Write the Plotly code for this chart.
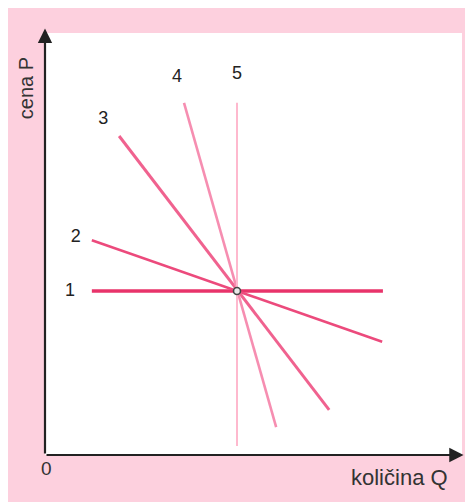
import plotly.graph_objects as go

# Data (Q = quantity, P = price) for the five demand curves through one point
curve_names = ["1", "2", "3", "4", "5"]
q_start = [1.22, 1.22, 1.93, 3.62, 5.00]
p_start = [4.00, 5.24, 7.78, 8.59, 8.59]
q_end = [8.80, 8.78, 7.40, 6.02, 5.00]
p_end = [4.00, 2.76, 1.10, 0.68, 0.22]
label_q = [0.65, 0.80, 1.52, 3.44, 5.00]
label_p = [4.00, 5.30, 8.18, 9.20, 9.28]
curve_colors = ["#E8336A", "#EC4A7C", "#F0628F", "#F68EB1", "#FEB9CE"]
curve_widths = [3.4, 2.6, 3.0, 2.6, 2.0]
center_q = [5.0]
center_p = [4.0]
x_label = "količina Q"
y_label = "cena P"
origin_label = "0"

W, H = 473, 502
OFF = 8  # page body margin
fig = go.Figure()

for i, name in enumerate(curve_names):
    fig.add_trace(go.Scatter(
        x=[q_start[i], q_end[i]], y=[p_start[i], p_end[i]],
        mode="lines", line=dict(color=curve_colors[i], width=curve_widths[i]),
        showlegend=False, hoverinfo="skip"))

fig.add_trace(go.Scatter(
    x=center_q, y=center_p, mode="markers",
    marker=dict(size=7, color="#e8e8e8", line=dict(color="#444", width=1.6)),
    showlegend=False))

fig.add_trace(go.Scatter(
    x=label_q, y=label_p, mode="text", text=curve_names,
    textfont=dict(family="Liberation Sans, Arial", size=18, color="#222"),
    showlegend=False))

# axis arrows
x_tip, y_tip = 10.90, 10.40
fig.add_annotation(x=x_tip, y=0, ax=0, ay=0, xref="x", yref="y", axref="x", ayref="y",
                   showarrow=True, arrowhead=2, arrowsize=1.3, arrowwidth=2.2,
                   arrowcolor="#222", text="")
fig.add_annotation(x=0, y=y_tip, ax=0, ay=0, xref="x", yref="y", axref="x", ayref="y",
                   showarrow=True, arrowhead=2, arrowsize=1.3, arrowwidth=2.2,
                   arrowcolor="#222", text="")

fig.add_annotation(x=0.05, y=-0.32, xref="x", yref="y", text=origin_label, showarrow=False,
                   font=dict(family="Liberation Sans, Arial", size=19, color="#333"))
fig.add_annotation(x=9.22, y=-0.54, xref="x", yref="y", text=x_label, showarrow=False,
                   font=dict(family="Liberation Sans, Arial", size=22, color="#333"))
fig.add_annotation(x=-0.49, y=8.95, xref="x", yref="y", text=y_label, showarrow=False,
                   textangle=-90,
                   font=dict(family="Liberation Sans, Arial", size=20, color="#333"))

# white panel on pink paper
fig.add_shape(type="rect", xref="paper", yref="paper",
              x0=(45 - OFF) / W, x1=(462 - OFF) / W, y0=1 - (455 - OFF) / H, y1=1 - (33 - OFF) / H,
              fillcolor="white", line=dict(width=0), layer="below")

sx, sy = 38.4, 41.0
fig.update_layout(
    width=W, height=H, margin=dict(l=0, r=0, t=0, b=0),
    paper_bgcolor="#FDD0DE", plot_bgcolor="rgba(0,0,0,0)",
    xaxis=dict(range=[(OFF - 45) / sx, (W + OFF - 45) / sx], visible=False, fixedrange=True),
    yaxis=dict(range=[(455 - H - OFF) / sy, (455 - OFF) / sy], visible=False, fixedrange=True),
)
fig.write_html("out.html")
